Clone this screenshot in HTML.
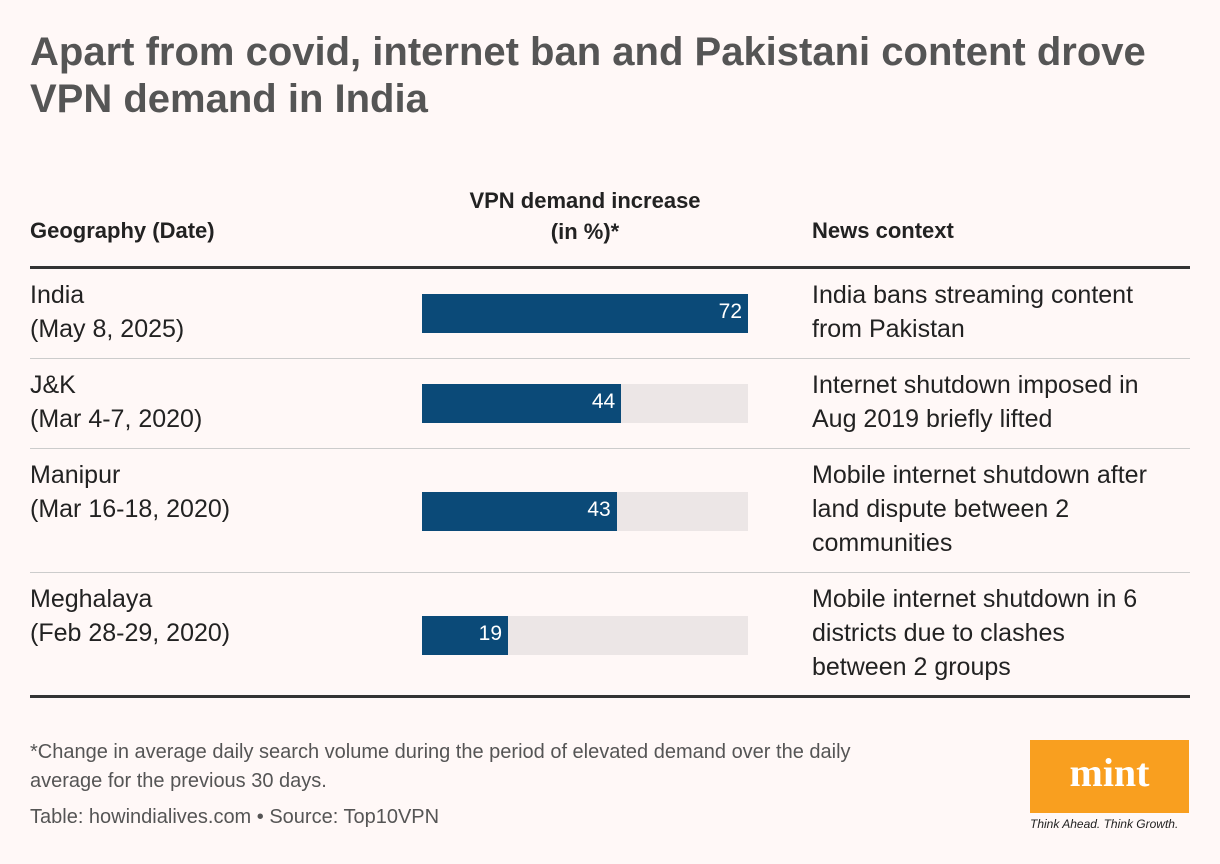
<!DOCTYPE html>
<html><head><meta charset="utf-8"><style>
body{margin:0;background:#fff8f7;font-family:"Liberation Sans",sans-serif;color:#222;}
#root{position:relative;width:1220px;height:864px;overflow:hidden;}
.abs{position:absolute;}
h1{position:absolute;left:30px;top:29px;margin:0;font-size:40px;line-height:47px;font-weight:bold;color:#555;letter-spacing:0px;width:1190px;}
.hd{font-weight:bold;font-size:22px;color:#222;}
.cell{font-size:25px;line-height:34px;color:#222;}
.rule{position:absolute;left:30px;width:1160px;background:#ccc;height:1px;}
.thick{background:#333;height:3px;}
.track{position:absolute;left:422px;width:326px;height:39px;background:#ece6e6;}
.bar{position:absolute;left:0;top:0;height:39px;background:#0b4a78;}
.val{position:absolute;right:6px;top:6px;color:#fff;font-size:21px;}
.foot{font-size:20px;line-height:29px;color:#555;}
</style></head><body><div id="root">
<h1>Apart from covid, internet ban and Pakistani content drove VPN demand in India</h1>
<div class="abs hd" style="left:30px;top:218px">Geography (Date)</div>
<div class="abs hd" style="left:422px;top:185px;width:326px;text-align:center;line-height:31px">VPN demand increase<br>(in %)*</div>
<div class="abs hd" style="left:812px;top:218px">News context</div>
<div class="rule thick" style="top:266px"></div>
<div id="rows"></div>
<div class="rule thick" style="top:695px"></div>
<div class="abs foot" style="left:30px;top:738px;width:870px">*Change in average daily search volume during the period of elevated demand over the daily average for the previous 30 days.</div>
<div class="abs foot" style="left:30px;top:803px">Table: howindialives.com • Source: Top10VPN</div>
<div class="abs" style="left:1030px;top:740px;width:159px;height:73px;background:#f99f1f"><div style="text-align:center;font-family:'Liberation Serif',serif;font-weight:bold;color:#fff;font-size:40px;line-height:66px">mint</div></div>
<div class="abs" style="left:1030px;top:817px;font-size:12px;font-style:italic;color:#222">Think Ahead. Think Growth.</div>
</div>
<script>
const geos=["India","J&K","Manipur","Meghalaya"];
const dates=["(May 8, 2025)","(Mar 4-7, 2020)","(Mar 16-18, 2020)","(Feb 28-29, 2020)"];
const values=[72,44,43,19];
const news=[["India bans streaming content","from Pakistan"],["Internet shutdown imposed in","Aug 2019 briefly lifted"],["Mobile internet shutdown after","land dispute between 2","communities"],["Mobile internet shutdown in 6","districts due to clashes","between 2 groups"]];
const maxVal=72, trackW=326;
const rowTops=[278,368,458,582], rowBottoms=[358,448,572];
const xs=v=>v/maxVal*trackW;
const rows=document.getElementById('rows');
geos.forEach((g,i)=>{
 const t=rowTops[i];
 const lab=document.createElement('div');lab.className='abs cell';lab.style.left='30px';lab.style.top=t+'px';
 lab.innerHTML=g.replace('&','&amp;')+'<br>'+dates[i];
 
 
 rows.appendChild(lab);
 const nl=news[i].length;
 const tr=document.createElement('div');tr.className='track';tr.style.top=(nl===3?t+34:t+16)+'px';
 
 
 const b=document.createElement('div');b.className='bar';b.style.width=xs(values[i])+'px';
 
 
 const v=document.createElement('div');v.className='val';v.textContent=values[i];
 
 
 b.appendChild(v);tr.appendChild(b);rows.appendChild(tr);
 const n=document.createElement('div');n.className='abs cell';n.style.left='812px';n.style.top=t+'px';
 n.innerHTML=news[i].join('<br>');
 
 
 rows.appendChild(n);
 if(i<3){const r=document.createElement('div');r.className='rule';r.style.top=rowBottoms[i]+'px';
 
 
 rows.appendChild(r);}
});
</script></body></html>
